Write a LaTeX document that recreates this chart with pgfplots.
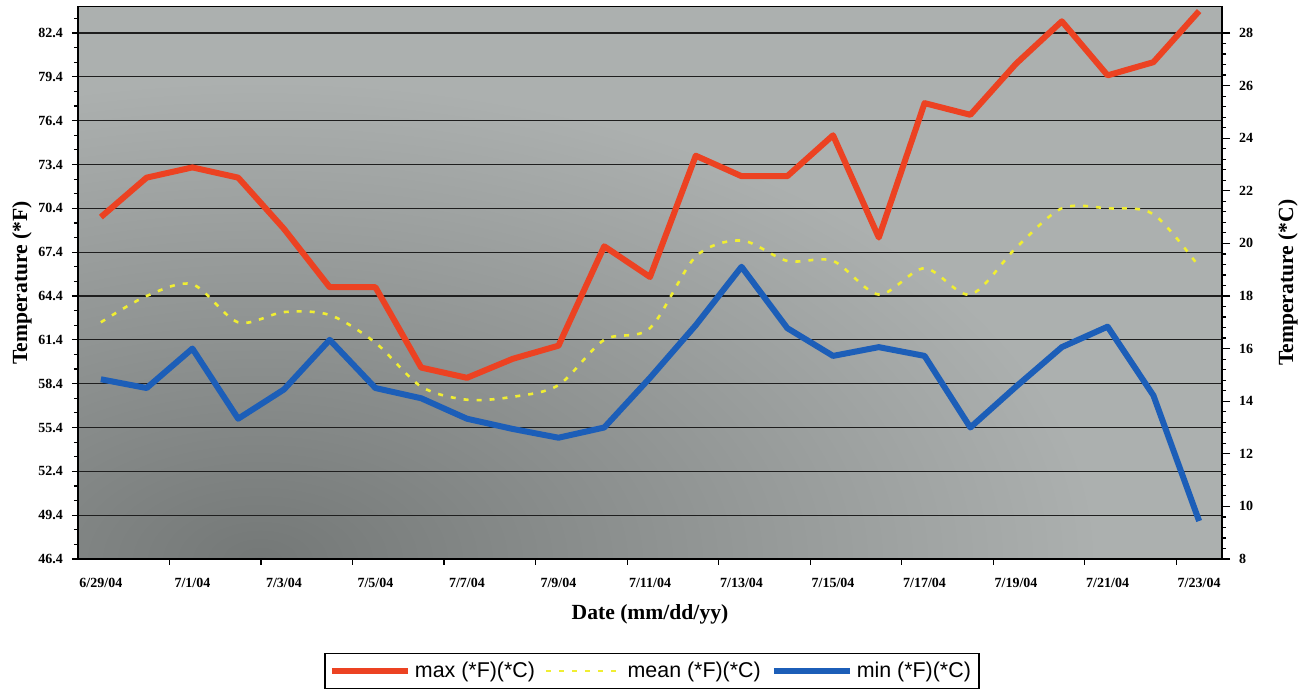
\documentclass[border=0pt]{standalone}
\usepackage{fontspec}
\setmainfont{Liberation Serif}
\newfontfamily\arial{Liberation Sans}
\usepackage{pgfplots}
\usepackage{pgfplotstable}
\pgfplotsset{compat=1.18}

\definecolor{maxc}{RGB}{236,66,34}
\definecolor{meanc}{RGB}{240,238,50}
\definecolor{minc}{RGB}{28,94,184}
\definecolor{bglight}{RGB}{172,176,175}
\definecolor{bgdark}{RGB}{116,120,119}
\definecolor{gridc}{RGB}{30,30,30}

% daily temperatures, degrees F; day 0 = 6/29/04
\pgfplotstableread{
day max  mean min
0   69.8 62.6 58.7
1   72.5 64.4 58.1
2   73.2 65.2 60.8
3   72.5 62.6 56.0
4   69.0 63.3 58.0
5   65.0 63.1 61.4
6   65.0 61.2 58.1
7   59.5 58.2 57.4
8   58.8 57.3 56.0
9   60.1 57.5 55.3
10  61.0 58.3 54.7
11  67.8 61.4 55.4
12  65.7 62.2 58.8
13  74.0 67.1 62.4
14  72.6 68.2 66.4
15  72.6 66.8 62.2
16  75.4 66.8 60.3
17  68.4 64.5 60.9
18  77.6 66.3 60.3
19  76.8 64.5 55.4
20  80.3 67.7 58.2
21  83.2 70.4 60.9
22  79.5 70.4 62.3
23  80.4 70.0 57.6
24  83.9 66.4 49.0
}\temps

\begin{document}
\begin{tikzpicture}
\path[use as bounding box] (0,0) rectangle (653pt,345pt);

% scanned grey plot area, darker towards the lower left
\begin{scope}
\clip (39pt,65.5pt) rectangle (611pt,341.65pt);
\fill[bglight] (39pt,65.5pt) rectangle (611pt,341.65pt);
\shade[inner color=bgdark, outer color=bglight] (130pt,65pt) ellipse [x radius=420pt, y radius=240pt];
\end{scope}

\begin{axis}[
  at={(39pt,65.5pt)}, anchor=south west,
  width=572pt, height=276.15pt, scale only axis,
  xmin=-0.5, xmax=24.5,
  ymin=46.4, ymax=84.2,
  axis line style={black, line width=0.8pt},
  tick align=outside,
  xtick pos=left, ytick pos=left,
  xtick={1.5,3.5,...,23.5}, xticklabels={},
  extra x ticks={0,2,...,24},
  extra x tick labels={6/29/04,7/1/04,7/3/04,7/5/04,7/7/04,7/9/04,7/11/04,7/13/04,7/15/04,7/17/04,7/19/04,7/21/04,7/23/04},
  extra x tick style={grid=none, tick style={draw=none}},
  ytick={46.4,49.4,52.4,55.4,58.4,61.4,64.4,67.4,70.4,73.4,76.4,79.4,82.4},
  yticklabels={46.4,49.4,52.4,55.4,58.4,61.4,64.4,67.4,70.4,73.4,76.4,79.4,82.4},
  minor ytick={47.4,48.4,...,83.9},
  major tick length=3pt, minor tick length=2pt,
  tick style={black, line width=0.6pt},
  ymajorgrids,
  major grid style={gridc, line width=0.6pt},
  tick label style={font=\bfseries\fontsize{7}{8}\selectfont},
  xticklabel style={yshift=-3pt},
  yticklabel style={xshift=-1pt},
  xlabel={Date (mm/dd/yy)},
  ylabel={Temperature (*F)},
  every axis x label/.style={at={(axis description cs:0.5,0)}, yshift=-27.5pt, anchor=center,
    font=\bfseries\fontsize{10.8}{12}\selectfont},
  every axis y label/.style={at={(axis description cs:0,0.5)}, xshift=-28pt, rotate=90, anchor=center,
    font=\bfseries\fontsize{10.8}{12}\selectfont},
  legend columns=3,
  legend style={at={(0.5017,-0.2028)}, anchor=center, draw=black, line width=0.6pt,
    fill=white, font=\arial\fontsize{10.7}{12}\selectfont, inner xsep=2pt, inner ysep=2pt,
    /tikz/every even column/.append style={column sep=3pt}},
  legend image code/.code={\draw[#1] (0pt,0pt) -- (38pt,0pt);},
]
\addplot[maxc, line width=3pt, line join=round] table[x=day, y=max] {\temps};
\addlegendentry{max (*F)(*C)}
\addplot[meanc, line width=1.3pt, dash pattern=on 2.5pt off 4pt, smooth] table[x=day, y=mean] {\temps};
\addlegendentry{mean (*F)(*C)}
\addplot[minc, line width=3pt, line join=round] table[x=day, y=min] {\temps};
\addlegendentry{min (*F)(*C)}
\end{axis}

% Celsius scale on the right (46.4 F = 8 C, 84.2 F = 29 C)
\begin{axis}[
  at={(39pt,65.5pt)}, anchor=south west,
  width=572pt, height=276.15pt, scale only axis,
  xmin=-0.5, xmax=24.5,
  ymin=8, ymax=29,
  axis x line=none,
  axis y line*=right,
  axis line style={black, line width=0.8pt},
  tick align=outside,
  ytick={8,10,...,28},
  yticklabels={8,10,12,14,16,18,20,22,24,26,28},
  minor y tick num=4,
  major tick length=4pt, minor tick length=2pt,
  tick style={black, line width=0.6pt},
  tick label style={font=\bfseries\fontsize{7}{8}\selectfont},
  yticklabel style={xshift=1pt},
  ylabel={Temperature (*C)},
  every axis y label/.style={at={(axis description cs:1,0.5)}, xshift=33pt, rotate=90, anchor=center,
    font=\bfseries\fontsize{10.8}{12}\selectfont},
]
\end{axis}
\end{tikzpicture}
\end{document}
